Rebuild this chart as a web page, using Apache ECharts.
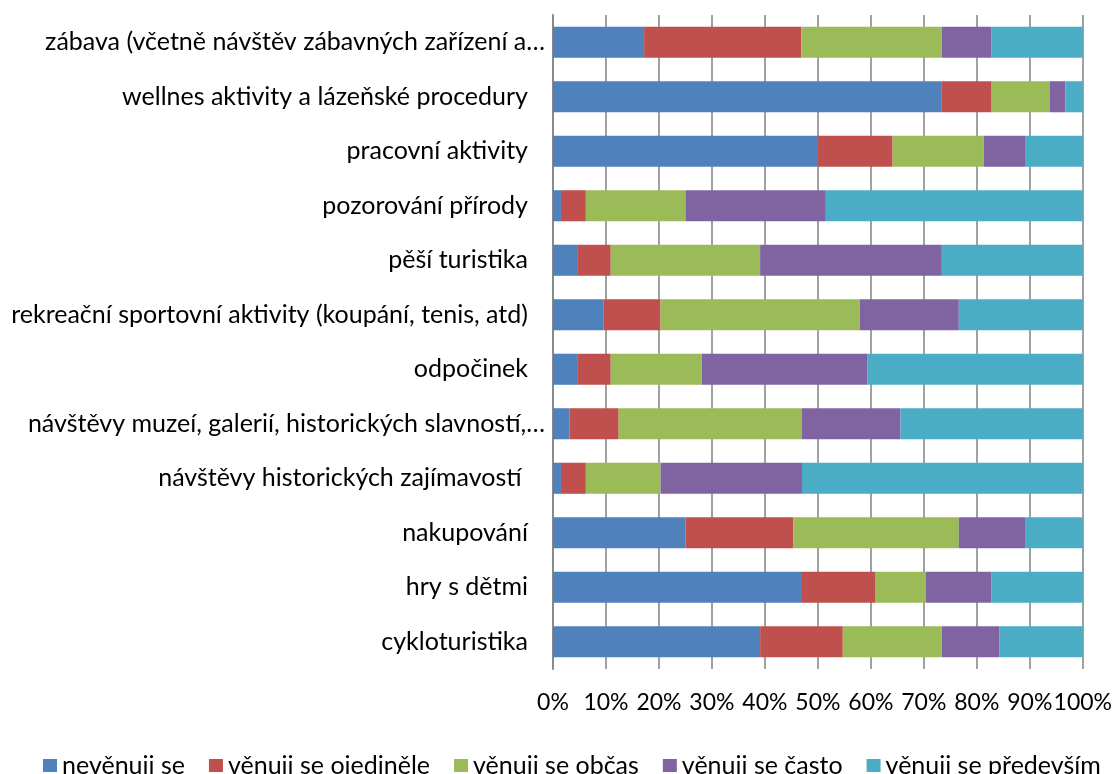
<!DOCTYPE html>
<html><head><meta charset="utf-8">
<script src="https://cdn.jsdelivr.net/npm/echarts@6/dist/echarts.min.js"></script>
<style>html,body{margin:0;padding:0;background:#fff}#c{width:1115px;height:774px}</style>
</head><body><div id="c"></div>
<script>
const categories = [
  "zábava (včetně návštěv zábavných zařízení a…",
  "wellnes aktivity a lázeňské procedury",
  "pracovní aktivity",
  "pozorování přírody",
  "pěší turistika",
  "rekreační sportovní aktivity (koupání, tenis, atd)",
  "odpočinek",
  "návštěvy muzeí, galerií, historických slavností,…",
  "návštěvy historických zajímavostí ",
  "nakupování",
  "hry s dětmi",
  "cykloturistika"
];
const seriesNames = ["nevěnuji se", "věnuji se ojediněle", "věnuji se občas", "věnuji se často", "věnuji se především"];
const nevenuji  = [17.2, 73.4, 50.0, 1.5, 4.7, 9.5, 4.7, 3.1, 1.5, 25.0, 47.0, 39.1];
const ojedinele = [29.7, 9.4, 14.1, 4.7, 6.2, 10.8, 6.2, 9.3, 4.7, 20.4, 13.9, 15.6];
const obcas     = [26.5, 11.0, 17.2, 18.8, 28.2, 37.6, 17.2, 34.6, 14.1, 31.2, 9.5, 18.7];
const casto     = [9.4, 2.9, 7.8, 26.5, 34.3, 18.7, 31.2, 18.6, 26.7, 12.5, 12.4, 10.9];
const predevsim = [17.2, 3.3, 10.9, 48.5, 26.6, 23.4, 40.7, 34.4, 53.0, 10.9, 17.2, 15.7];
const xTicks = [0, 10, 20, 30, 40, 50, 60, 70, 80, 90, 100];

const colors = ["#4F81BD", "#C0504D", "#9BBB59", "#8064A2", "#4BACC6"];
const values = [nevenuji, ojedinele, obcas, casto, predevsim];
const FONT = "Lato";
const LBL = 25;

const chart = echarts.init(document.getElementById('c'), null, {renderer: 'canvas'});
chart.setOption({
  animation: false,
  color: colors,
  textStyle: {fontFamily: FONT},
  grid: {left: 553, right: 31, top: 15, bottom: 105, containLabel: false},
  legend: {
    top: 748, left: 38,
    icon: 'rect', itemWidth: 14, itemHeight: 13, itemGap: 24,
    textStyle: {fontFamily: FONT, fontSize: 25, color: '#000'},
    data: seriesNames
  },
  xAxis: {
    type: 'value', min: xTicks[0], max: xTicks[xTicks.length - 1], interval: 10,
    axisLine: {show: false}, axisTick: {show: false},
    axisLabel: {formatter: v => v + '%', margin: 22, fontSize: 23, color: '#000', fontFamily: FONT},
    splitLine: {show: true, lineStyle: {color: '#8a8a8a', width: 1.6}}
  },
  yAxis: {
    type: 'category', inverse: true, data: categories,
    axisTick: {show: false},
    axisLine: {show: true, lineStyle: {color: '#8a8a8a', width: 2}},
    axisLabel: {
      margin: 8, fontSize: LBL, color: '#000', fontFamily: FONT,
      formatter: v => v.endsWith('…') ? '{e|' + v + '}' : '{n|' + v + '}',
      rich: {
        e: {fontSize: LBL, fontFamily: FONT, color: '#000', padding: [0, 0, 0, 0]},
        n: {fontSize: LBL, fontFamily: FONT, color: '#000', padding: [0, 17, 0, 0]}
      }
    }
  },
  series: seriesNames.map((n, i) => ({
    name: n, type: 'bar', stack: 'total', data: values[i],
    barCategoryGap: '43%',
    itemStyle: {color: colors[i]}
  }))
});
</script>
</body></html>
